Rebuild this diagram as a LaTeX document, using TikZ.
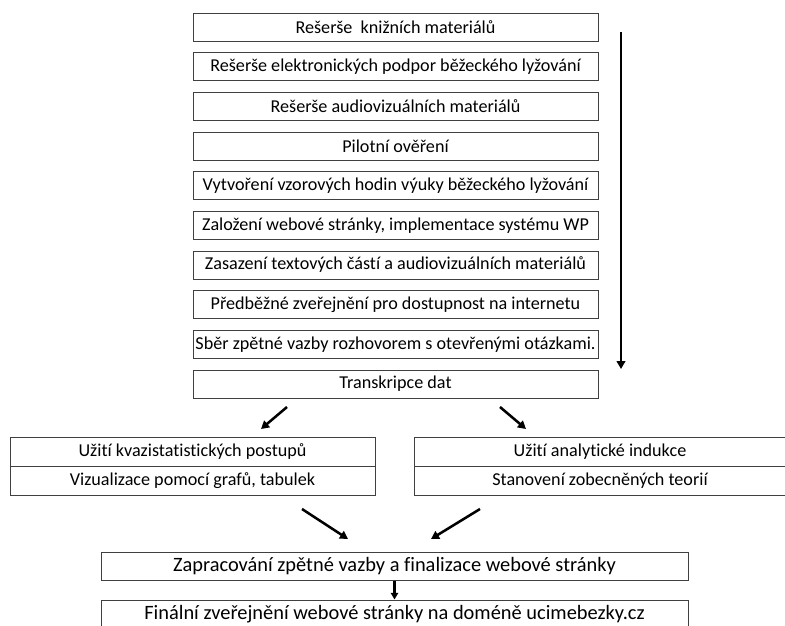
\documentclass[tikz,border=0pt]{standalone}
\usepackage{fontspec}
\setmainfont{Carlito}[Ligatures=NoCommon]
\usetikzlibrary{arrows.meta}

\begin{document}
\begin{tikzpicture}[x=0.75pt,y=-0.75pt,
	krok/.style={draw=black!75,line width=0.75pt,inner sep=0pt,
		minimum width=303.75pt,minimum height=21pt,font=\fontsize{13.6}{15}\selectfont},
	dvojbox/.style={krok,minimum height=21.75pt},
	konec/.style={krok,minimum width=440.25pt,font=\fontsize{15.3}{17}\selectfont},
	sipka/.style={line width=1.9pt,-{Triangle[length=6pt,width=6.5pt]}}]

\def\stredX{395.5}
\def\prvniY{27}
\def\rozestup{39.67}

\clip (0,0) rectangle (785,625);

% hlavni posloupnost kroku
\foreach \txt [count=\i] in {Rešerše~ knižních materiálů,
	Rešerše elektronických podpor běžeckého lyžování,
	Rešerše audiovizuálních materiálů,
	Pilotní ověření,
	Vytvoření vzorových hodin výuky běžeckého lyžování,
	{Založení webové stránky, implementace systému WP},
	Zasazení textových částí a audiovizuálních materiálů,
	Předběžné zveřejnění pro dostupnost na internetu,
	Sběr zpětné vazby rozhovorem s otevřenými otázkami.,
	Transkripce dat}
{
	\node[krok] (k\i) at (\stredX,\prvniY+\rozestup*\i-\rozestup) {\txt};
}

% casova osa
\coordinate (osaA) at (621,32);
\coordinate (osaB) at (621,369);
\draw[sipka] (osaA) -- (osaB);

% dve vetve
\node[dvojbox,minimum width=273.75pt] (l1) at (192.5,451.5) {Užití kvazistatistických postupů};
\node[dvojbox,minimum width=273.75pt] (l2) at (192.5,480.5) {Vizualizace pomocí grafů, tabulek};
\node[dvojbox,minimum width=279pt] (p1) at (600,451.5) {Užití analytické indukce};
\node[dvojbox,minimum width=279pt] (p2) at (600,480.5) {Stanovení zobecněných teorií};

\coordinate (vlA) at (287,407);
\coordinate (vlB) at (261,429);
\coordinate (vpA) at (500,407);
\coordinate (vpB) at (526,429);
\draw[sipka] (vlA) -- (vlB);
\draw[sipka] (vpA) -- (vpB);

% spojeni vetvi
\coordinate (slA) at (302,509);
\coordinate (slB) at (348,539);
\coordinate (spA) at (480,509);
\coordinate (spB) at (431,539);
\draw[sipka] (slA) -- (slB);
\draw[sipka] (spA) -- (spB);

% zaver
\node[konec] (zap) at (394.5,566) {Zapracování zpětné vazby a finalizace webové stránky};
\node[konec] (fin) at (394.5,614) {Finální zveřejnění webové stránky na doméně ucimebezky.cz};
\draw[line width=1.6pt,-{Triangle[length=5pt,width=5.5pt]}] (zap) -- (fin);

\end{tikzpicture}
\end{document}
